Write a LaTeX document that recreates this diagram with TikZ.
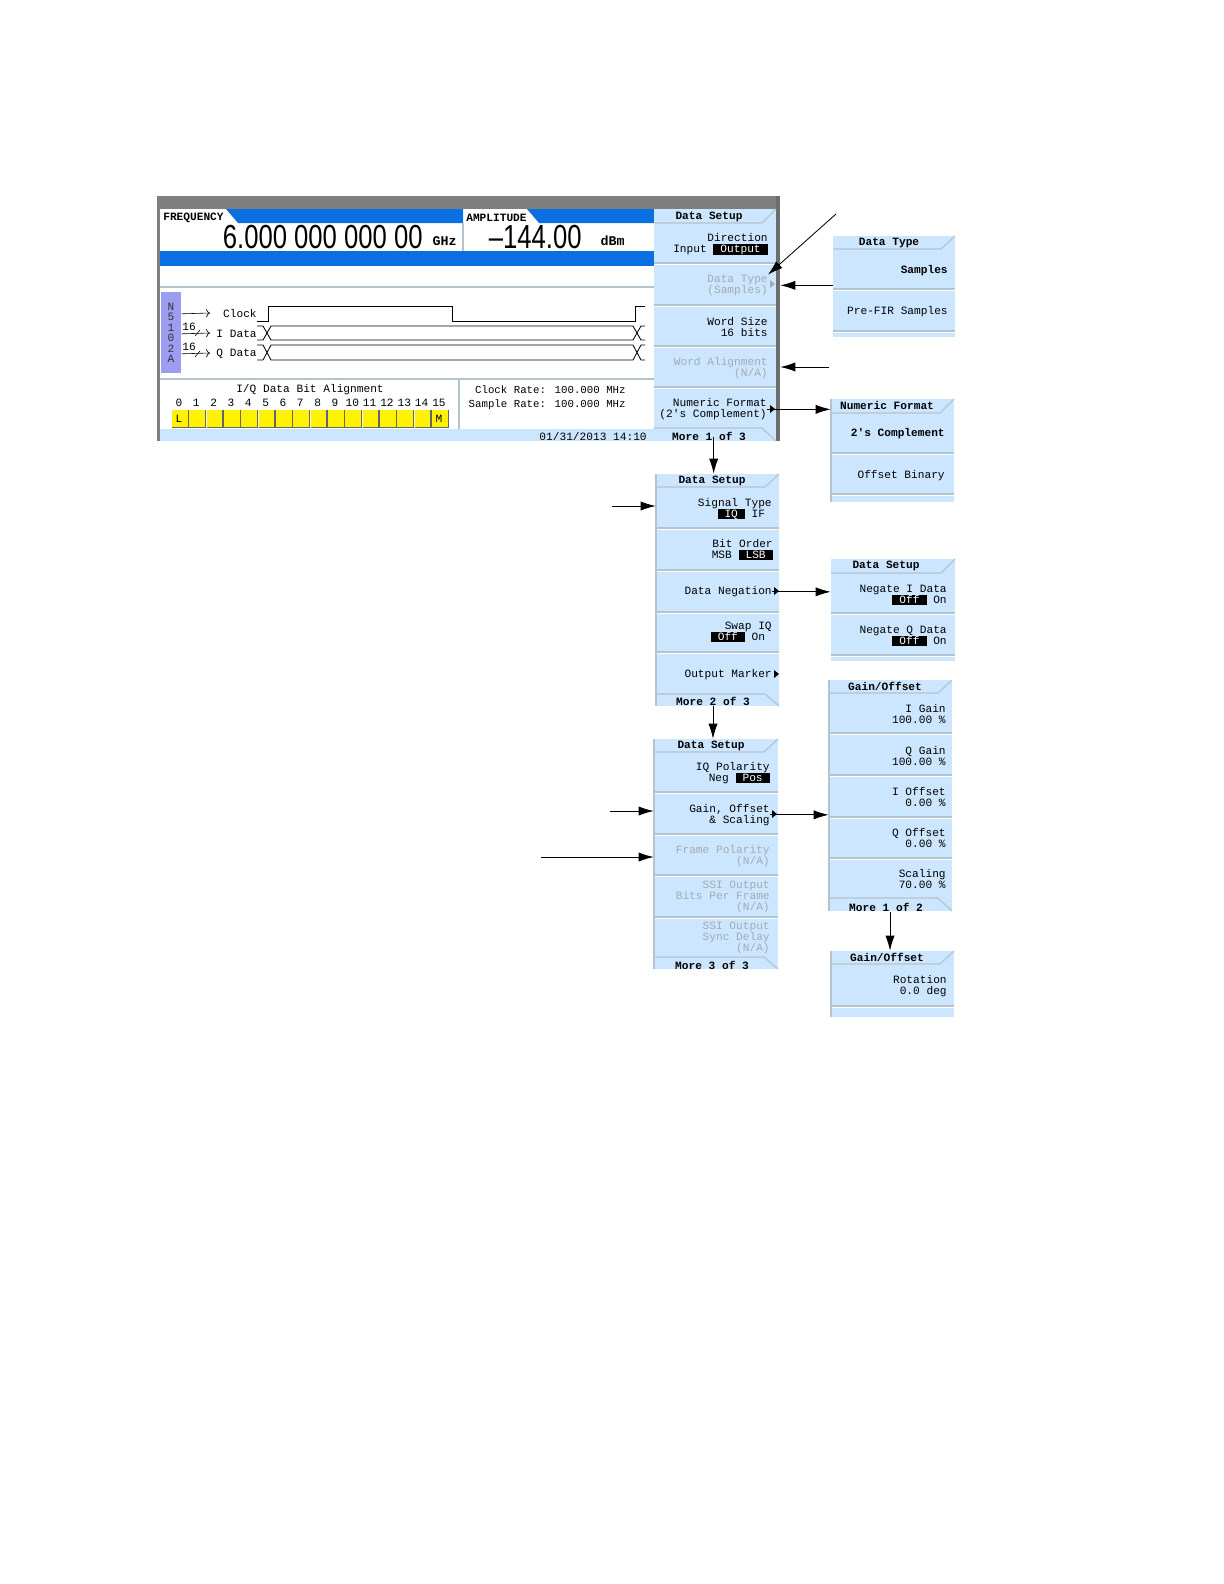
\documentclass[tikz,border=0pt]{standalone}
\usepackage{fontspec}
\usepackage{xcolor}
\usetikzlibrary{arrows.meta,fit}
\newfontfamily\crtfont{Liberation Mono}
\newfontfamily\bigfont[FakeStretch=0.77]{Liberation Sans}
\definecolor{keyblue}{HTML}{CCE6FF}
\definecolor{bandblue}{HTML}{0A6FE0}
\definecolor{sidepurple}{HTML}{9C9CF0}
\definecolor{framegray}{HTML}{7F7F7F}
\definecolor{sepgray}{HTML}{B5C3CF}
\definecolor{offtext}{HTML}{A3ABB3}
\newcommand{\hilite}[1]{\smash{\setlength{\fboxsep}{0pt}\colorbox{black}{\textcolor{white}{\rule[-1pt]{0pt}{6pt}\kern4.2pt #1\kern4.2pt}}}}
\newcommand{\keyrules}[3]{\foreach \y in {#3} {\draw[keysep] (#1,\y) -- (#2,\y); \draw[white,line width=0.6pt] (#1,\y+1.6) -- (#2,\y+1.6);}}
\tikzset{
  crt/.style={font=\crtfont\fontsize{6.7}{6.6}\selectfont,inner sep=0pt,yshift=-0.5pt},
  keytext/.style={crt,align=right,anchor=east},
  keyoff/.style={keytext,text=offtext},
  keybold/.style={keytext,font=\crtfont\bfseries\fontsize{6.7}{6.6}\selectfont},
  ratetext/.style={keytext,font=\crtfont\fontsize{6.45}{6.6}\selectfont},
  menutitle/.style={crt,font=\crtfont\bfseries\fontsize{6.7}{6.6}\selectfont},
  panelbox/.style={fill=keyblue,inner sep=0pt},
  keysep/.style={sepgray,line width=0.7pt},
  flowarrow/.style={-{Latex[length=9pt,width=5.5pt]},line width=0.5pt},
  sigarrow/.style={->,line width=0.35pt}
}

\begin{document}
\begin{tikzpicture}[x=0.6pt,y=-0.6pt]
\useasboundingbox (0,0) rectangle (1224,1584);

\node[fill=white,inner sep=0pt,fit={(157,196) (780,441)}] (screen) {};
\fill[framegray] (157,196) rectangle (780,209);
\fill[framegray] (157,196) rectangle (160,441);
\fill[framegray!85!black] (776,196) rectangle (780,441);
\fill[bandblue] (226,209) -- (238,223) -- (463,223) -- (463,209) -- cycle;
\fill[bandblue] (527,209) -- (539,223) -- (654,223) -- (654,209) -- cycle;
\fill[bandblue] (160,251) rectangle (654,266);
\fill[keyblue] (160,429) rectangle (654,441);
\draw[keysep] (463,223) -- (463,251);
\draw[keysep] (160,287) -- (654,287);
\draw[keysep] (160,379) -- (654,379);
\draw[keysep] (459,379) -- (459,429);

\node[menutitle,anchor=west] (freqlabel) at (163,217) {FREQUENCY};
\node[menutitle,anchor=west] (amplabel) at (466,217) {AMPLITUDE};
\node[inner sep=0pt,anchor=east,font=\bigfont\fontsize{20}{20}\selectfont] (freqvalue) at (423,237) {6.000 000 000 00};
\node[inner sep=0pt,anchor=east,font=\bigfont\fontsize{20}{20}\selectfont] (ampvalue) at (582,237) {–144.00};
\node[menutitle,anchor=east,font=\crtfont\bfseries\fontsize{8}{8}\selectfont] (frequnit) at (457,240) {GHz};
\node[menutitle,anchor=east,font=\crtfont\bfseries\fontsize{8}{8}\selectfont] (ampunit) at (625,240) {dBm};

\node[fill=sidepurple,inner sep=0pt,fit={(161,292) (181,373)}] (sidebox) {};
\node[crt,align=center,font=\crtfont\fontsize{6.7}{6.3}\selectfont,text=black!80] (sidetext) at (171,332) {N\\5\\1\\0\\2\\A};

\node[keytext] (clocklabel) at (257,313) {Clock};
\node[keytext] (ilabel) at (257,333) {I Data};
\node[keytext] (qlabel) at (257,353) {Q Data};
\draw[sigarrow] (sidebox.east |- clocklabel) -- (210,313);
\draw[sigarrow] (sidebox.east |- ilabel) -- (210,333);
\draw[sigarrow] (sidebox.east |- qlabel) -- (210,353);
\draw[line width=0.35pt] (195,336) -- (200,330);
\draw[line width=0.35pt] (195,357) -- (200,351);
\node[crt] (ibits) at (189,326) {16};
\node[crt] (qbits) at (189,346) {16};

\draw[line width=0.5pt] (257,321) -- (268,321) -- (268,306) -- (452,306) -- (452,321) -- (635,321) -- (635,306) -- (645,306);
\draw[line width=0.5pt] (257,326) -- (263,326) -- (271,340) -- (633,340) -- (641,326) -- (645,326);
\draw[line width=0.5pt] (257,340) -- (263,340) -- (271,326) -- (633,326) -- (641,340) -- (645,340);
\draw[line width=0.5pt] (257,345) -- (263,345) -- (271,360) -- (633,360) -- (641,345) -- (645,345);
\draw[line width=0.5pt] (257,360) -- (263,360) -- (271,345) -- (633,345) -- (641,360) -- (645,360);

\node[crt] (aligntitle) at (310,389) {I/Q Data Bit Alignment};
\foreach \n in {0,...,15} {
  \node[crt] (bit\n) at ({179+17.33*\n},402) {\n};
  \fill[black!60] ({172+17.33*\n},410) rectangle ({172+17.33*\n+17},428);
  \fill[yellow] ({172+17.33*\n},410) rectangle ({172+17.33*\n+15.8},427);
}
\node[crt] (lsbmark) at (179,418) {L};
\node[crt] (msbmark) at (439,418) {M};
\node[ratetext] (clockrate) at (626,389) {Clock Rate: 100.000 MHz};
\node[ratetext] (samplerate) at (626,404) {Sample Rate: 100.000 MHz};
\node[keytext] (datestamp) at (647,436) {01/31/2013 14:10};

\node[panelbox,fit={(654,209) (776,441)}] (menuone) {};
\keyrules{654}{776}{263,305,346,387}
\draw[keysep] (654,223) -- (762,223) -- (776,209);
\draw[keysep] (654,428) -- (762,428) -- (776,441);
\node[menutitle] (menuonetitle) at (709,216) {Data Setup};
\node[keytext] (direction) at (768,243) {Direction\\Input \hilite{Output}};
\node[keyoff] (datatype) at (768,284.5) {Data Type\\(Samples)};
\fill[offtext] (770,280) -- (775,284) -- (770,288) -- cycle;
\node[keytext] (wordsize) at (768,326) {Word Size\\16 bits};
\node[keyoff] (wordalign) at (768,367.5) {Word Alignment\\(N/A)};
\node[keytext] (numformat) at (767,408.5) {Numeric Format\\(2's Complement)};
\fill (770,405) -- (775,409) -- (770,413) -- cycle;
\node[menutitle] (menuonemore) at (709,436) {More 1 of 3};

\node[panelbox,fit={(833,236) (955,337)}] (typemenu) {};
\keyrules{833}{955}{289,331}
\draw[keysep] (833,249) -- (941,249) -- (955,236);
\node[menutitle] (typetitle) at (889,242) {Data Type};
\node[keybold] (samples) at (948,270) {Samples};
\node[keytext] (prefir) at (948,311) {Pre-FIR Samples};

\node[panelbox,fit={(831,399) (954,502)}] (formatmenu) {};
\keyrules{831}{954}{453,494}
\draw[keysep] (831,413) -- (940,413) -- (954,399);
\draw[keysep] (831,399) -- (831,502);
\node[menutitle] (formattitle) at (887,405) {Numeric Format};
\node[keybold] (twoscomp) at (945,433) {2's Complement};
\node[keytext] (offsetbin) at (945,475) {Offset Binary};

\node[panelbox,fit={(656,474) (779,706)}] (menutwo) {};
\keyrules{656}{779}{528,570,612,652}
\draw[keysep] (656,487) -- (765,487) -- (779,474);
\draw[keysep] (656,694) -- (765,694) -- (779,706);
\draw[keysep] (656,474) -- (656,706);
\node[menutitle] (menutwotitle) at (712,480) {Data Setup};
\node[keytext] (signaltype) at (772,507) {Signal Type\\\hilite{IQ} IF\hspace*{4pt}};
\node[keytext] (bitorder) at (773,548) {Bit Order\\MSB \hilite{LSB}};
\node[keytext] (datanegate) at (772,591) {Data Negation};
\fill (774,587) -- (779,591) -- (774,595) -- cycle;
\node[keytext] (swapiq) at (772,630) {Swap IQ\\\hilite{Off} On\hspace*{4pt}};
\node[keytext] (outmarker) at (772,674) {Output Marker};
\fill (774,670) -- (779,674) -- (774,678) -- cycle;
\node[menutitle] (menutwomore) at (713,701) {More 2 of 3};

\node[panelbox,fit={(831,559) (955,661)}] (negatemenu) {};
\keyrules{831}{955}{613,655}
\draw[keysep] (831,573) -- (941,573) -- (955,559);
\node[menutitle] (negatetitle) at (886,565) {Data Setup};
\node[keytext] (negatei) at (947,593) {Negate I Data\\\hilite{Off} On};
\node[keytext] (negateq) at (947,634.5) {Negate Q Data\\\hilite{Off} On};

\node[panelbox,fit={(654,739) (778,969)}] (menuthree) {};
\keyrules{654}{778}{792,834,875,917}
\draw[keysep] (654,752) -- (764,752) -- (778,739);
\draw[keysep] (654,957) -- (764,957) -- (778,969);
\draw[keysep] (654,739) -- (654,969);
\node[menutitle] (menuthreetitle) at (711,745) {Data Setup};
\node[keytext] (polarity) at (770,772) {IQ Polarity\\Neg \hilite{Pos}};
\node[keytext] (gainoffset) at (770,814) {Gain, Offset\\\& Scaling};
\fill (772,810) -- (777,814) -- (772,818) -- cycle;
\node[keyoff] (framepol) at (770,855) {Frame Polarity\\(N/A)};
\node[keyoff] (ssibits) at (770,896) {SSI Output\\Bits Per Frame\\(N/A)};
\node[keyoff] (ssisync) at (770,937.5) {SSI Output\\Sync Delay\\(N/A)};
\node[menutitle] (menuthreemore) at (712,965) {More 3 of 3};

\node[panelbox,fit={(829,680) (952,911)}] (gainmenu) {};
\keyrules{829}{952}{733,775,817,858}
\draw[keysep] (829,693) -- (938,693) -- (952,680);
\draw[keysep] (829,898) -- (938,898) -- (952,911);
\draw[keysep] (829,680) -- (829,911);
\node[menutitle] (gaintitle) at (885,686) {Gain/Offset};
\node[keytext] (igain) at (946,713.5) {I Gain\\100.00 \%};
\node[keytext] (qgain) at (946,755) {Q Gain\\100.00 \%};
\node[keytext] (ioffset) at (946,796) {I Offset\\0.00 \%};
\node[keytext] (qoffset) at (946,837.5) {Q Offset\\0.00 \%};
\node[keytext] (scaling) at (946,878.5) {Scaling\\70.00 \%};
\node[menutitle] (gainmore) at (886,907) {More 1 of 2};

\node[panelbox,fit={(831,951) (954,1017)}] (rotatemenu) {};
\keyrules{831}{954}{1006}
\draw[keysep] (831,964) -- (940,964) -- (954,951);
\draw[keysep] (831,951) -- (831,1017);
\node[menutitle] (rotatetitle) at (887,957) {Gain/Offset};
\node[keytext] (rotation) at (947,985) {Rotation\\0.0 deg};

\coordinate (typenote) at (836,214);
\coordinate (alignnote) at (829,367);
\coordinate (signalnote) at (612,506);
\coordinate (gainnote) at (610,811);
\coordinate (framenote) at (541,857);

\draw[flowarrow] (typenote) -- (datatype.north east);
\draw[flowarrow] (typemenu.west |- datatype.east) -- (datatype.east -| screen.east);
\draw[flowarrow] (alignnote) -- (alignnote -| screen.east);
\draw[flowarrow] (numformat.east) -- (numformat.east -| formatmenu.west);
\draw[flowarrow] ([xshift=1pt]menutwotitle.north |- menuonemore.center) -- ([xshift=1pt]menutwotitle.north |- menutwo.north);
\draw[flowarrow] (signalnote) -- (signalnote -| menutwo.west);
\draw[flowarrow] (datanegate.east) -- (datanegate.east -| negatemenu.west);
\draw[flowarrow] (menutwomore.south) -- (menutwomore.south |- menuthree.north);
\draw[flowarrow] (gainnote) -- (gainnote -| menuthree.west);
\draw[flowarrow] (framenote) -- (framenote -| menuthree.west);
\draw[flowarrow] (gainoffset.east) -- (gainoffset.east -| gainmenu.west);
\draw[flowarrow] ([xshift=2.4pt]gainmore.south) -- ([xshift=2.4pt]gainmore.south |- rotatemenu.north);
\end{tikzpicture}
\end{document}
